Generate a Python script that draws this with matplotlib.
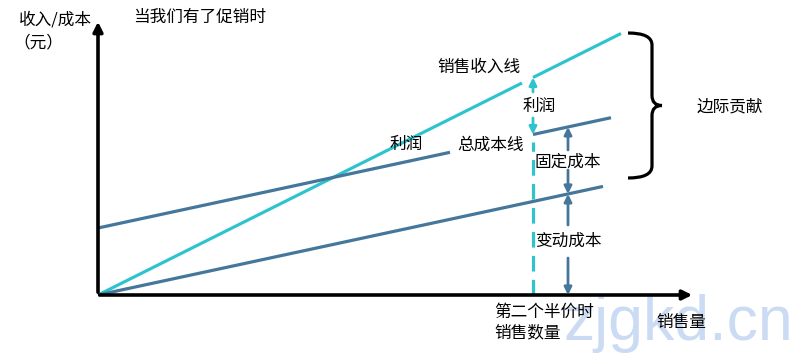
import numpy as np
import matplotlib.pyplot as plt
from matplotlib.path import Path
from matplotlib.patches import PathPatch

plt.rcParams['font.family'] = ['Noto Sans CJK SC', 'DejaVu Sans']

# 示意图的参数（横轴：销售量，纵轴：收入/成本）
price = 0.5            # 销售收入线斜率
unit_var_cost = 0.215  # 变动成本斜率
fixed_cost = 67        # 固定成本
q_half = 435           # 第二个半价时销售数量
rev_end = 523
cost_end = 513
var_end = 505
rev_gap = (424, q_half)
cost_gap = (352, q_half)

cyan = '#2fc4cd'
blue = '#44779b'

fig = plt.figure(figsize=(7.93, 3.56), dpi=100)
ax = fig.add_axes([0, 0, 1, 1])
ax.set_xlim(-98, 695)
ax.set_ylim(-61, 295)
ax.axis('off')

lw = 2.3

# 坐标轴
ax.annotate('', xy=(0, 276), xytext=(0, 0),
            arrowprops=dict(arrowstyle='-|>', lw=2.6, color='black', mutation_scale=14))
ax.annotate('', xy=(597, 0), xytext=(-1, 0),
            arrowprops=dict(arrowstyle='-|>', lw=2.6, color='black', mutation_scale=14))

# 销售收入线
for a, b in [(0, rev_gap[0]), (rev_gap[1], rev_end)]:
    q = np.array([a, b])
    ax.plot(q, price * q, color=cyan, lw=lw, solid_capstyle='butt')

# 总成本线
for a, b in [(0, cost_gap[0]), (cost_gap[1], cost_end)]:
    q = np.array([a, b])
    ax.plot(q, fixed_cost + unit_var_cost * q, color=blue, lw=lw, solid_capstyle='butt')

# 变动成本线
q = np.array([0, var_end])
ax.plot(q, unit_var_cost * q, color=blue, lw=lw, solid_capstyle='butt')

# 半价时销售数量的虚线
tc_half = fixed_cost + unit_var_cost * q_half
ax.plot([q_half, q_half], [0, tc_half - 8], color=cyan, lw=lw, dashes=(4.9, 2.6))

def arrow(x, y0, y1, color):
    ax.annotate('', xy=(x, y1), xytext=(x, y0),
                arrowprops=dict(arrowstyle='-|>', lw=2, color=color, mutation_scale=11,
                                shrinkA=0, shrinkB=0))

# 利润箭头
arrow(q_half, 203, price * q_half, cyan)
arrow(q_half, 177, tc_half, cyan)

# 固定成本与变动成本箭头
qx = 470
tc_x = fixed_cost + unit_var_cost * qx
vc_x = unit_var_cost * qx
arrow(qx, 145, tc_x, blue)
arrow(qx, 125, vc_x, blue)
arrow(qx, 70, vc_x, blue)
arrow(qx, 37, 0, blue)

# 边际贡献的大括号
top = price * rev_end + 0.5
bot = 117
mid = (top + bot) / 2
x0, x1, xt = 530, 554, 564
codes = [Path.MOVETO, Path.CURVE3, Path.CURVE3, Path.LINETO,
         Path.CURVE3, Path.CURVE3, Path.LINETO,
         Path.MOVETO, Path.CURVE3, Path.CURVE3, Path.LINETO,
         Path.CURVE3, Path.CURVE3]
verts = [(x0, top), (x1, top), (x1, top - 12), (x1, mid + 10),
         (x1, mid), (xt, mid), (xt, mid),
         (xt, mid), (x1, mid), (x1, mid - 10), (x1, bot + 12),
         (x1, bot), (x0, bot)]
ax.add_patch(PathPatch(Path(verts, codes), fill=False, lw=2.3, color='black'))

# 水印
ax.text(465, -45, 'zjgkd.cn', fontsize=45, color='#cbdbf3', family='Liberation Sans',
        ha='left', va='baseline', zorder=0)

fs = 12
ax.text(-6, 275, '收入/成本', fontsize=fs, ha='right', va='center')
ax.text(-85, 252, '（元）', fontsize=fs, ha='left', va='center')
ax.text(35, 278, '当我们有了促销时', fontsize=fs, ha='left', va='center')
ax.text(381, 228, '销售收入线', fontsize=fs, ha='center', va='center')
ax.text(308, 151, '利润', fontsize=fs, ha='center', va='center')
ax.text(393, 150, '总成本线', fontsize=fs, ha='center', va='center')
ax.text(441, 189, '利润', fontsize=fs, ha='center', va='center')
ax.text(470, 133, '固定成本', fontsize=fs, ha='center', va='center')
ax.text(470, 54, '变动成本', fontsize=fs, ha='center', va='center')
ax.text(396, -17, '第二个半价时', fontsize=fs, ha='left', va='center')
ax.text(396, -38, '销售数量', fontsize=fs, ha='left', va='center')
ax.text(558, -27, '销售量', fontsize=fs, ha='left', va='center')
ax.text(599, 188, '边际贡献', fontsize=fs, ha='left', va='center')

fig.savefig('out.png', dpi=100)
